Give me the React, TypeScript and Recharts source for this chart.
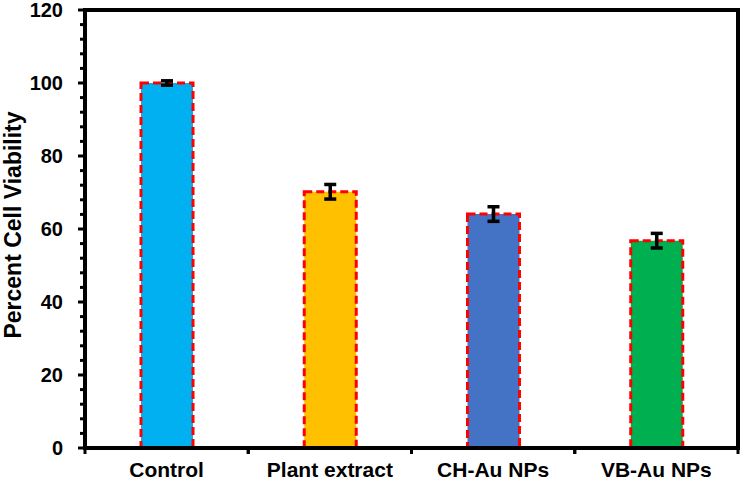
import React from "react";
import { BarChart, Bar, XAxis, YAxis, Cell, ErrorBar, usePlotArea } from "recharts";

const categories = ["Control", "Plant extract", "CH-Au NPs", "VB-Au NPs"];
const viability = [100, 70.2, 64.1, 56.8];
const errors = [0.6, 2.0, 2.0, 2.0];
const colors = ["#00B0F0", "#FFC000", "#4472C4", "#00B050"];
const yTicks = [0, 20, 40, 60, 80, 100, 120];
const yMinorTicks = [0, 4, 8, 12, 16, 20, 24, 28, 32, 36, 40, 44, 48, 52, 56, 60, 64, 68, 72, 76, 80, 84, 88, 92, 96, 100, 104, 108, 112, 116, 120];

const data = categories.map((name, i) => ({ name, value: viability[i], err: errors[i] }));

const FONT = "'Liberation Sans', Arial, sans-serif";

const Frame = () => {
  const area = usePlotArea ? usePlotArea() : null;
  if (!area) return null;
  return (
    <rect x={area.x} y={area.y} width={area.width} height={area.height} fill="none" stroke="#000" strokeWidth={4} />
  );
};

const YTick = (props: any) => {
  const { x, y, payload } = props;
  const major = yTicks.includes(payload.value);
  return (
    <g>
      <line x1={x - (major ? 7 : 5)} x2={x} y1={y} y2={y} stroke="#000" strokeWidth={3} />
      {major && (
        <text x={x - 22} y={y} textAnchor="end" dominantBaseline="central" fontFamily={FONT} fontWeight="bold" fontSize={20} fill="#000">
          {payload.value}
        </text>
      )}
    </g>
  );
};

const XTick = (props: any) => {
  const { x, y, payload, width, visibleTicksCount } = props;
  const half = width / visibleTicksCount / 2;
  return (
    <g>
      <line x1={x - half} x2={x - half} y1={y} y2={y + 6} stroke="#000" strokeWidth={3} />
      <line x1={x + half} x2={x + half} y1={y} y2={y + 6} stroke="#000" strokeWidth={3} />
      <text x={x} y={y + 21} textAnchor="middle" dominantBaseline="central" fontFamily={FONT} fontWeight="bold" fontSize={21} fill="#000">
        {payload.value}
      </text>
    </g>
  );
};

const YLabel = (props: any) => {
  const vb = props.viewBox || { x: 0, y: 10, width: 85, height: 438 };
  const cx = vb.x + 13;
  const cy = vb.y + vb.height / 2 - 4;
  return (
    <text x={cx} y={cy} transform={`rotate(-90, ${cx}, ${cy})`} textAnchor="middle" dominantBaseline="central" fontFamily={FONT} fontWeight="bold" fontSize={23} fill="#000">
      Percent Cell Viability
    </text>
  );
};

export default function App() {
  return (
    <div style={{ position: "absolute", left: 0, top: 0, background: "#fff" }}>
      <BarChart width={744} height={482} data={data} margin={{ top: 10, right: 6, bottom: 0, left: 0 }}>
        <XAxis
          dataKey="name"
          height={34}
          tickLine={false}
          tickSize={0}
          tickMargin={0}
          axisLine={{ stroke: "#000", strokeWidth: 4 }}
          tick={<XTick />}
          interval={0}
        />
        <YAxis
          width={85}
          domain={[0, 120]}
          ticks={yMinorTicks}
          interval={0}
          tickLine={false}
          tickSize={0}
          tickMargin={0}
          axisLine={{ stroke: "#000", strokeWidth: 4 }}
          tick={<YTick />}
          label={<YLabel />}
        />
        <Bar dataKey="value" barSize={52} stroke="#FF0000" strokeWidth={3} strokeDasharray="8 4" isAnimationActive={false}>
          {data.map((d, i) => (
            <Cell key={d.name} fill={colors[i]} />
          ))}
          <ErrorBar dataKey="err" width={6} strokeWidth={3.5} stroke="#000" direction="y" />
        </Bar>
        <Frame />
      </BarChart>
    </div>
  );
}
